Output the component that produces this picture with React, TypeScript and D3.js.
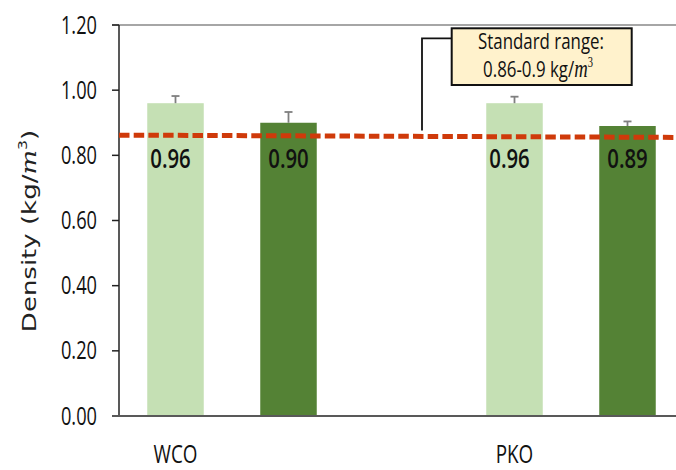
import React from "react";
import * as d3 from "d3";

const categories = ["WCO", "PKO"];
const slots = ["WCO-a", "WCO-b", "gap", "PKO-a", "PKO-b"];
const lightValues = [0.96, 0.96];
const darkValues = [0.9, 0.89];
const lightErr = [0.022, 0.02];
const darkErr = [0.033, 0.014];
const yTicks = [0, 0.2, 0.4, 0.6, 0.8, 1.0, 1.2];
const standardLine = [0.862, 0.855];
const annotationLines = ["Standard range:", "0.86-0.9 kg/"];

const W = 676;
const H = 470;
const LIGHT = "#c5e0b4";
const DARK = "#548235";
const RED = "#cf3a0a";
const FONT = "'Open Sans', 'Noto Sans', sans-serif";

const y = d3.scaleLinear().domain([0, 1.2]).range([416, 25]);
const x = d3
  .scaleBand<string>()
  .domain(slots)
  .range([119, 684])
  .paddingInner(0.5)
  .paddingOuter(0.25);

function CText(props: {
  x: number;
  y: number;
  size: number;
  sx?: number;
  anchor?: string;
  weight?: string | number;
  fill?: string;
  children: React.ReactNode;
}) {
  return (
    <g transform={`translate(${props.x},${props.y}) scale(${props.sx ?? 0.75},1)`}>
      <text
        x={0}
        y={0}
        fontFamily={FONT}
        fontSize={props.size}
        fontWeight={props.weight ?? 400}
        textAnchor={props.anchor ?? "middle"}
        fill={props.fill ?? "#111"}
      >
        {props.children}
      </text>
    </g>
  );
}

export default function App() {
  const bars: { slot: string; v: number; e: number; color: string }[] = [];
  categories.forEach((c, i) => {
    bars.push({ slot: slots[i * 3], v: lightValues[i], e: lightErr[i], color: LIGHT });
    bars.push({ slot: slots[i * 3 + 1], v: darkValues[i], e: darkErr[i], color: DARK });
  });
  const bw = x.bandwidth();
  const x0 = 119;
  const xEnd = W;
  const lineGen = d3
    .line<[number, number]>()
    .x((d) => d[0])
    .y((d) => y(d[1]));
  const refPts: [number, number][] = [
    [x0, standardLine[0]],
    [xEnd, standardLine[1]],
  ];
  const fmt = d3.format(".2f");

  return (
    <svg
      width={W}
      height={H}
      style={{ position: "absolute", left: 0, top: 0, background: "#fff" }}
    >
      <rect x={0} y={0} width={W} height={H} fill="#fff" />
      {/* top border */}
      <line x1={112} x2={W} y1={y(1.2)} y2={y(1.2)} stroke="#a6a6a6" strokeWidth={2} />
      {/* bars */}
      {bars.map((b, i) => (
        <rect
          key={i}
          x={x(b.slot)!}
          y={y(b.v)}
          width={bw}
          height={y(0) - y(b.v)}
          fill={b.color}
        />
      ))}
      {/* error bars */}
      {bars.map((b, i) => {
        const cx = x(b.slot)! + bw / 2;
        return (
          <g key={"e" + i} stroke="#7f7f7f" strokeWidth={1.8}>
            <line x1={cx} x2={cx} y1={y(b.v)} y2={y(b.v + b.e)} />
            <line x1={cx - 4} x2={cx + 4} y1={y(b.v + b.e)} y2={y(b.v + b.e)} />
          </g>
        );
      })}
      {/* y axis */}
      <line x1={x0} x2={x0} y1={y(1.2)} y2={y(0)} stroke="#222" strokeWidth={1.5} />
      {yTicks.map((t) => (
        <g key={t}>
          <line x1={112} x2={x0} y1={y(t)} y2={y(t)} stroke="#222" strokeWidth={1.5} />
          <CText x={97} y={y(t) + 8.5} size={25} sx={0.73} anchor="end">
            {fmt(t)}
          </CText>
        </g>
      ))}
      {/* x axis */}
      <line x1={112} x2={W} y1={y(0)} y2={y(0)} stroke="#595959" strokeWidth={2} />
      {categories.map((c, i) => (
        <CText key={c} x={x(slots[i * 3])! + bw / 2} y={463} size={25.5} sx={0.74} anchor="middle">
          {c}
        </CText>
      ))}
      {/* dashed standard line */}
      <path
        d={lineGen(refPts) || ""}
        stroke={RED}
        strokeWidth={5}
        strokeDasharray="10.5 4.2"
        fill="none"
      />
      {/* value labels */}
      {bars.map((b, i) => (
        <CText
          key={"v" + i}
          x={x(b.slot)! + bw / 2 - (i % 2 === 0 ? 5 : 0)}
          y={y(0.76)}
          size={27.5}
          sx={0.74}
          weight={600}
          anchor="middle"
        >
          {b.v.toFixed(2)}
        </CText>
      ))}
      {/* annotation connector */}
      <polyline
        points={`451.7,38.3 422,38.3 422,${y(0.876)}`}
        fill="none"
        stroke="#111"
        strokeWidth={1.8}
      />
      <rect
        x={451.7}
        y={28.3}
        width={180}
        height={56.7}
        fill="#fff2cc"
        stroke="#111"
        strokeWidth={2}
      />
      <CText x={541} y={48.5} size={22.5}>
        {annotationLines[0]}
      </CText>
      <CText x={538} y={77} size={22.5}>
        {annotationLines[1]}
        <tspan fontFamily="'Liberation Serif', 'DejaVu Serif', serif" fontStyle="italic" fontSize={25}>
          m
        </tspan>
        <tspan fontFamily="'Liberation Serif', serif" fontSize={14} dy={-10}>
          3
        </tspan>
      </CText>
      {/* y title */}
      <g transform={`translate(36,231) rotate(-90) scale(1.3,1)`}>
        <text
          x={0}
          y={0}
          textAnchor="middle"
          fontFamily="'DejaVu Sans', Verdana, sans-serif"
          fontSize={20}
          fill="#222"
        >
          Density (kg/
          <tspan fontFamily="'DejaVu Serif', serif" fontStyle="italic">
            m
          </tspan>
          <tspan fontSize={12} dy={-9}>
            3
          </tspan>
          <tspan dy={9}>)</tspan>
        </text>
      </g>
    </svg>
  );
}
